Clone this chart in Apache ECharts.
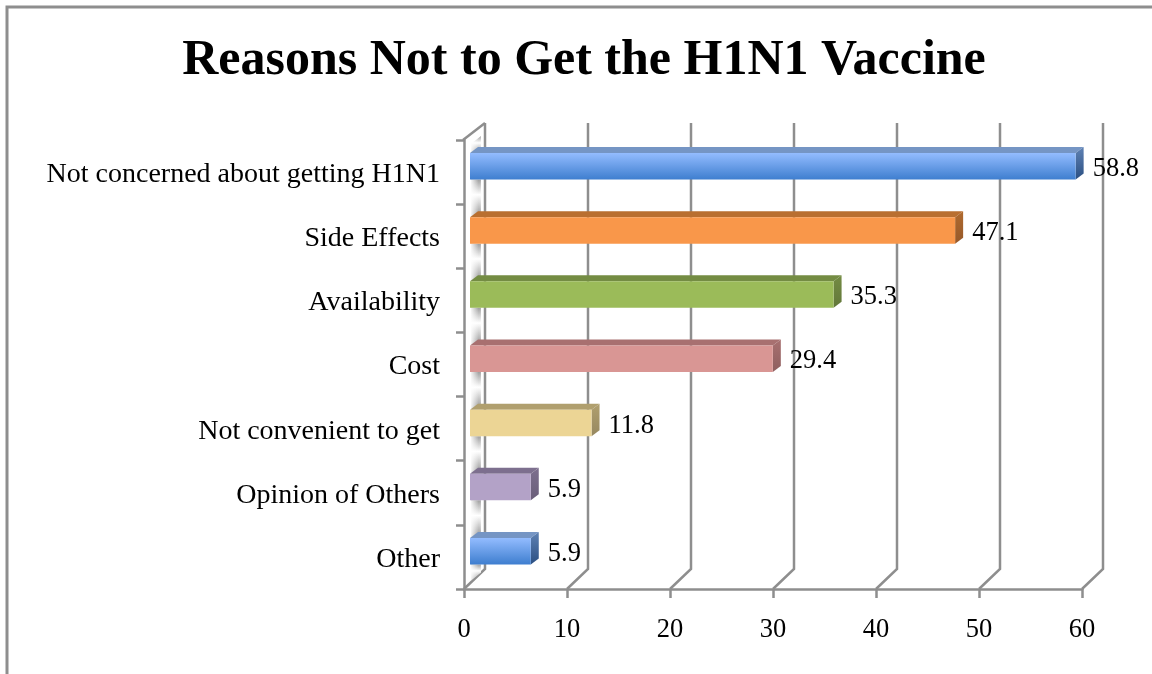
<!DOCTYPE html>
<html>
<head>
<meta charset="utf-8">
<style>
  html, body { margin: 0; padding: 0; background: #fff; }
  #chart { width: 1152px; height: 674px; }
</style>
<script src="https://cdn.jsdelivr.net/npm/echarts@6/dist/echarts.min.js"></script>
</head>
<body>
<div id="chart"></div>
<script>
var categories = ['Not concerned about getting H1N1', 'Side Effects', 'Availability', 'Cost', 'Not convenient to get', 'Opinion of Others', 'Other'];
var values = [58.8, 47.1, 35.3, 29.4, 11.8, 5.9, 5.9];
var xTicks = [0, 10, 20, 30, 40, 50, 60];

// front, top and side colours of each bar
var faces = [
  { front: ['#93bcff', '#3e7ecf'], top: '#7595c4', side: ['#5f82b4', '#2b4f82'] },
  { front: ['#f9974a', '#f9974a'], top: '#b96f30', side: ['#b06a2e', '#96592a'] },
  { front: ['#9bbb59', '#9bbb59'], top: '#748c43', side: ['#748c43', '#62773a'] },
  { front: ['#d99694', '#d99694'], top: '#a87070', side: ['#a87070', '#8e5f5f'] },
  { front: ['#ecd595', '#ecd595'], top: '#b09f6e', side: ['#b09f6e', '#968860'] },
  { front: ['#b3a2c7', '#b3a2c7'], top: '#7d6f8e', side: ['#7d6f8e', '#6a5e79'] },
  { front: ['#93bcff', '#3e7ecf'], top: '#7595c4', side: ['#5f82b4', '#2b4f82'] }
];

var lineColor = '#8e8e8e';
var fontName = '"Liberation Serif", serif';
var wallX = 21, wallY = 20;   // depth of the back wall
var barX = 8, barY = 6;       // depth of a bar

function vGrad(a, b) {
  return new echarts.graphic.LinearGradient(0, 0, 0, 1, [{ offset: 0, color: a }, { offset: 1, color: b }]);
}

// shaded piece of the left wall that shows between two bars
function wallPiece(points) {
  var shade = new echarts.graphic.LinearGradient(0, 0, 0, 1, [
    { offset: 0, color: '#9c9c9c' },
    { offset: 0.4, color: '#ffffff' },
    { offset: 1, color: '#8a8a8a' }
  ]);
  var fade = new echarts.graphic.LinearGradient(0, 0, 1, 0, [
    { offset: 0, color: 'rgba(255,255,255,0.9)' },
    { offset: 0.8, color: 'rgba(255,255,255,0)' },
    { offset: 1, color: 'rgba(255,255,255,0.2)' }
  ]);
  return [
    { type: 'polygon', shape: { points: points }, style: { fill: shade } },
    { type: 'polygon', shape: { points: points }, style: { fill: fade } }
  ];
}

function renderWall(params, api) {
  var sys = params.coordSys;
  var x = api.coord([api.value(0), 0])[0];
  var bottom = sys.y + sys.height;
  var style = { fill: null, stroke: lineColor, lineWidth: 2.5 };
  var kids = [{
    type: 'polyline',
    shape: { points: [[x, bottom], [x + wallX, bottom - wallY], [x + wallX, sys.y - 17]] },
    style: style
  }];
  if (params.dataIndex === 0) {
    kids.push({ type: 'line', shape: { x1: x - 1, y1: sys.y, x2: x + wallX, y2: sys.y - 17 }, style: style });
  }
  return { type: 'group', children: kids };
}

function renderBar(params, api) {
  var i = params.dataIndex;
  var start = api.coord([0, i]);
  var end = api.coord([api.value(0), i]);
  var x0 = start[0] + 6;
  var x1 = end[0] + 6;
  var top = start[1] - 19;
  var bottom = start[1] + 7.5;
  var f = faces[i];
  var kids = [];
  if (i === 0) {
    kids = kids.concat(wallPiece([[x0 + 1, top - 9], [x0 + 11, top - 17], [x0 + 11, top], [x0 + 1, top]]));
  }
  if (i === values.length - 1) {
    kids = kids.concat(wallPiece([[x0 + 1, bottom], [x0 + 11, bottom], [x0 + 11, bottom + 8], [x0 + 1, bottom + 16]]));
  } else {
    kids = kids.concat(wallPiece([[x0 + 1, bottom], [x0 + 11, bottom], [x0 + 11, bottom + 34], [x0 + 1, bottom + 38]]));
  }
  kids.push(
    { type: 'polygon', shape: { points: [[x0, top], [x0 + barX, top - barY], [x1 + barX, top - barY], [x1, top]] }, style: { fill: f.top } },
    { type: 'polygon', shape: { points: [[x1, top], [x1 + barX, top - barY], [x1 + barX, bottom - barY], [x1, bottom]] }, style: { fill: vGrad(f.side[0], f.side[1]) } },
    { type: 'rect', shape: { x: x0, y: top, width: x1 - x0, height: bottom - top }, style: { fill: vGrad(f.front[0], f.front[1]) } },
    {
      type: 'text',
      style: {
        x: x1 + 17, y: start[1] - 3,
        text: String(api.value(0)),
        fill: '#000',
        font: '26.5px ' + fontName,
        verticalAlign: 'middle'
      },
      z2: 10
    }
  );
  return { type: 'group', children: kids };
}

var chart = echarts.init(document.getElementById('chart'));
chart.setOption({
  animation: false,
  backgroundColor: '#fff',
  title: {
    text: 'Reasons Not to Get the H1N1 Vaccine',
    left: 579, top: 31, textAlign: 'center',
    textStyle: { fontFamily: fontName, fontWeight: 'bold', fontSize: 50, color: '#000' }
  },
  grid: { left: 464, right: 70, top: 140, bottom: 85 },
  xAxis: {
    type: 'value', min: 0, max: 60, interval: 10,
    splitLine: { show: false },
    axisLine: { show: true, lineStyle: { color: lineColor, width: 2.5 } },
    axisTick: { show: true, length: 9, lineStyle: { color: lineColor, width: 2.5 } },
    axisLabel: { color: '#000', fontFamily: fontName, fontSize: 26.5, margin: 28 }
  },
  yAxis: {
    type: 'category', data: categories, inverse: true,
    axisLine: { show: true, lineStyle: { color: lineColor, width: 2.5 } },
    axisTick: { show: true, length: 8, lineStyle: { color: lineColor, width: 2.5 } },
    axisLabel: {
      margin: 24,
      formatter: '{name|{value}}',
      rich: { name: { color: '#000', fontFamily: fontName, fontSize: 28, padding: [5, 0, 0, 0] } }
    }
  },
  graphic: [{
    type: 'polyline',
    shape: { points: [[7, 674], [7, 7], [1152, 7]] },
    style: { fill: null, stroke: lineColor, lineWidth: 3 }
  }],
  series: [
    {
      type: 'custom', z: 1, clip: false, silent: true,
      data: xTicks.map(function (t) { return [t]; }),
      encode: { x: 0 },
      renderItem: renderWall
    },
    {
      type: 'custom', z: 3, clip: false, silent: true,
      data: values.map(function (v, i) { return [v, i]; }),
      encode: { x: 0, y: 1 },
      renderItem: renderBar
    }
  ]
});
</script>
</body>
</html>
